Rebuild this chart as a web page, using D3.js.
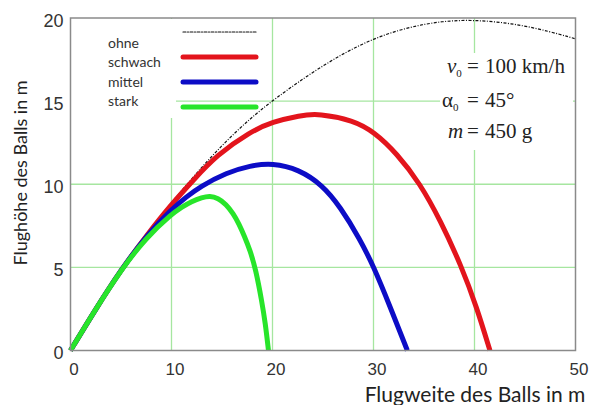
<!DOCTYPE html>
<html>
<head>
<meta charset="utf-8">
<script src="https://cdn.jsdelivr.net/npm/d3@7"></script>
<style>
  html, body { margin: 0; padding: 0; background: #fff; }
  svg { display: block; }
</style>
</head>
<body>
<svg id="chart" width="595" height="405"></svg>
<script>
// ---- data ----
const xTicks = [0, 10, 20, 30, 40, 50];
const yTicks = [0, 5, 10, 15, 20];
const seriesNames = ["ohne", "schwach", "mittel", "stark"];

const ohneX = [0, 2.5, 5, 7.5, 10, 12.5, 15, 17.5, 20, 25, 30, 35, 39.5, 45, 50];
const ohneY = [0, 2.5, 4.85, 6.95, 8.9, 10.7, 12.35, 13.8, 15.05, 17.2, 18.85, 19.7, 19.95, 19.6, 18.75];

const schwachX = [0, 2.5, 5, 7.5, 10, 12.16, 14.47, 17.77, 20, 22.7, 24.6, 28.0, 30.05, 32.3, 34.6, 36.6, 38.73, 40.2, 41.53];
const schwachY = [0, 2.5, 4.85, 6.9, 8.8, 10.25, 11.75, 13.15, 13.75, 14.14, 14.26, 13.84, 13.15, 11.86, 10.05, 7.85, 5.04, 2.63, 0];

const mittelX = [0, 2.5, 5, 7.5, 10, 11.5, 12.8, 15.47, 17.77, 20, 22.6, 24.95, 26.7, 28.66, 30.05, 31.6, 33.35];
const mittelY = [0, 2.5, 4.85, 6.9, 8.5, 9.25, 9.85, 10.7, 11.12, 11.28, 10.9, 9.95, 8.65, 6.7, 5.0, 2.7, 0];

const starkX = [0, 2.5, 5, 7.5, 10, 11, 12, 13, 13.8, 14.6, 15.4, 16.1, 16.7, 17.2, 17.77, 18.35, 18.93, 19.3, 19.6];
const starkY = [0, 2.5, 4.85, 6.8, 8.2, 8.62, 8.97, 9.2, 9.3, 9.17, 8.8, 8.25, 7.6, 6.9, 6.05, 4.85, 3.0, 1.6, 0];

// ---- layout ----
const svg = d3.select("#chart");
const x = d3.scaleLinear().domain([0, 50]).range([70.5, 575.5]);
const y = d3.scaleLinear().domain([0, 20]).range([350.5, 18]);

const gridColor = "#a6e6a0";
const frameColor = "#8a8a8a";

// grid
const gGrid = svg.append("g");
gGrid.selectAll("line.vx").data(xTicks.filter(d => d > 0 && d < 50)).join("line")
  .attr("x1", d => x(d)).attr("x2", d => x(d))
  .attr("y1", y(0)).attr("y2", y(20))
  .attr("stroke", gridColor).attr("stroke-width", 1.3);
gGrid.selectAll("line.hy").data(yTicks.filter(d => d > 0 && d < 20)).join("line")
  .attr("x1", x(0)).attr("x2", x(50))
  .attr("y1", d => y(d)).attr("y2", d => y(d))
  .attr("stroke", gridColor).attr("stroke-width", 1.3);

// white boxes (legend and annotation backgrounds)
svg.append("rect").attr("x", 71).attr("y", 19).attr("width", 105).attr("height", 99).attr("fill", "#fff");
svg.append("rect").attr("x", 440).attr("y", 53).attr("width", 133).attr("height", 97).attr("fill", "#fff");

// curves
const line = d3.line().x(d => x(d[0])).y(d => y(d[1])).curve(d3.curveBasis);
const zip = (a, b) => a.map((v, i) => [v, b[i]]);

const series = [
  { name: "ohne", data: zip(ohneX, ohneY), color: "#111", width: 1.2, dash: "3,1.5,1,1.5" },
  { name: "schwach", data: zip(schwachX, schwachY), color: "#e3141c", width: 5, dash: null },
  { name: "mittel", data: zip(mittelX, mittelY), color: "#0c0cc6", width: 5, dash: null },
  { name: "stark", data: zip(starkX, starkY), color: "#27e52a", width: 5, dash: null }
];

const plot = svg.append("g");
series.forEach(s => {
  plot.append("path").datum(s.data)
    .attr("d", line)
    .attr("fill", "none")
    .attr("stroke", s.color)
    .attr("stroke-width", s.width)
    .attr("stroke-linecap", "butt")
    .attr("stroke-dasharray", s.dash);
});

// frame
svg.append("rect")
  .attr("x", x(0)).attr("y", y(20))
  .attr("width", x(50) - x(0)).attr("height", y(0) - y(20))
  .attr("fill", "none").attr("stroke", frameColor).attr("stroke-width", 1.5);

// axes (tick labels)
const xAxis = d3.axisBottom(x).tickValues(xTicks).tickSize(0).tickPadding(0).tickFormat(d3.format("d"));
const gx = svg.append("g").attr("transform", `translate(3,${y(0)})`).call(xAxis);
gx.select(".domain").remove();
gx.selectAll("text").attr("dy", 0).attr("y", 24)
  .attr("font-family", "Liberation Sans, Arial, sans-serif").attr("font-size", 17).attr("fill", "#333");

const yAxis = d3.axisLeft(y).tickValues(yTicks).tickSize(0).tickPadding(0).tickFormat(d3.format("d"));
const gy = svg.append("g").attr("transform", `translate(${x(0)},0)`).call(yAxis);
gy.select(".domain").remove();
gy.selectAll("text").attr("x", -7).attr("dy", "0.45em")
  .attr("font-family", "Liberation Sans, Arial, sans-serif").attr("font-size", 18).attr("fill", "#333");

// axis titles
svg.append("text")
  .attr("transform", "translate(27,173) rotate(-90)")
  .attr("text-anchor", "middle")
  .attr("font-family", "Lato, 'Open Sans', sans-serif").attr("font-size", 18).attr("fill", "#222")
  .text("Flughöhe des Balls in m");
svg.append("text")
  .attr("x", 475).attr("y", 401.5)
  .attr("text-anchor", "middle")
  .attr("font-family", "Lato, 'Open Sans', sans-serif").attr("font-size", 21).attr("fill", "#222")
  .text("Flugweite des Balls in m");

// legend
const legendTextY = [48, 67, 87, 106];
const legendLineY = [32, 57, 82, 107];
const gl = svg.append("g");
series.forEach((s, i) => {
  gl.append("text").attr("x", 108).attr("y", legendTextY[i])
    .attr("font-family", "Lato, 'Open Sans', sans-serif").attr("font-size", 14).attr("fill", "#333")
    .text(seriesNames[i]);
  gl.append("line").attr("x1", 183).attr("x2", 256)
    .attr("y1", legendLineY[i]).attr("y2", legendLineY[i])
    .attr("stroke", s.color).attr("stroke-width", s.width)
    .attr("stroke-linecap", "round").attr("stroke-dasharray", s.dash);
});

// annotation
const ann = svg.append("g")
  .attr("font-family", "'Liberation Serif', 'Times New Roman', serif").attr("font-size", 21).attr("fill", "#222");
function annLine(yb, sym, italic, sub, rhs) {
  const t = ann.append("text").attr("y", yb);
  t.append("tspan").attr("x", sym === "α" ? 442 : (sym === "m" ? 448 : 447))
    .attr("font-style", italic ? "italic" : null).text(sym);
  if (sub) t.append("tspan").attr("font-size", 11).attr("dy", 4).text(sub);
  t.append("tspan").attr("x", 467).attr("dy", sub ? -4 : 0).text("=");
  t.append("tspan").attr("x", 485).text(rhs);
}
annLine(73, "v", true, "0", "100 km/h");
annLine(107, "α", false, "0", "45°");
annLine(138, "m", true, null, "450 g");
</script>
</body>
</html>
